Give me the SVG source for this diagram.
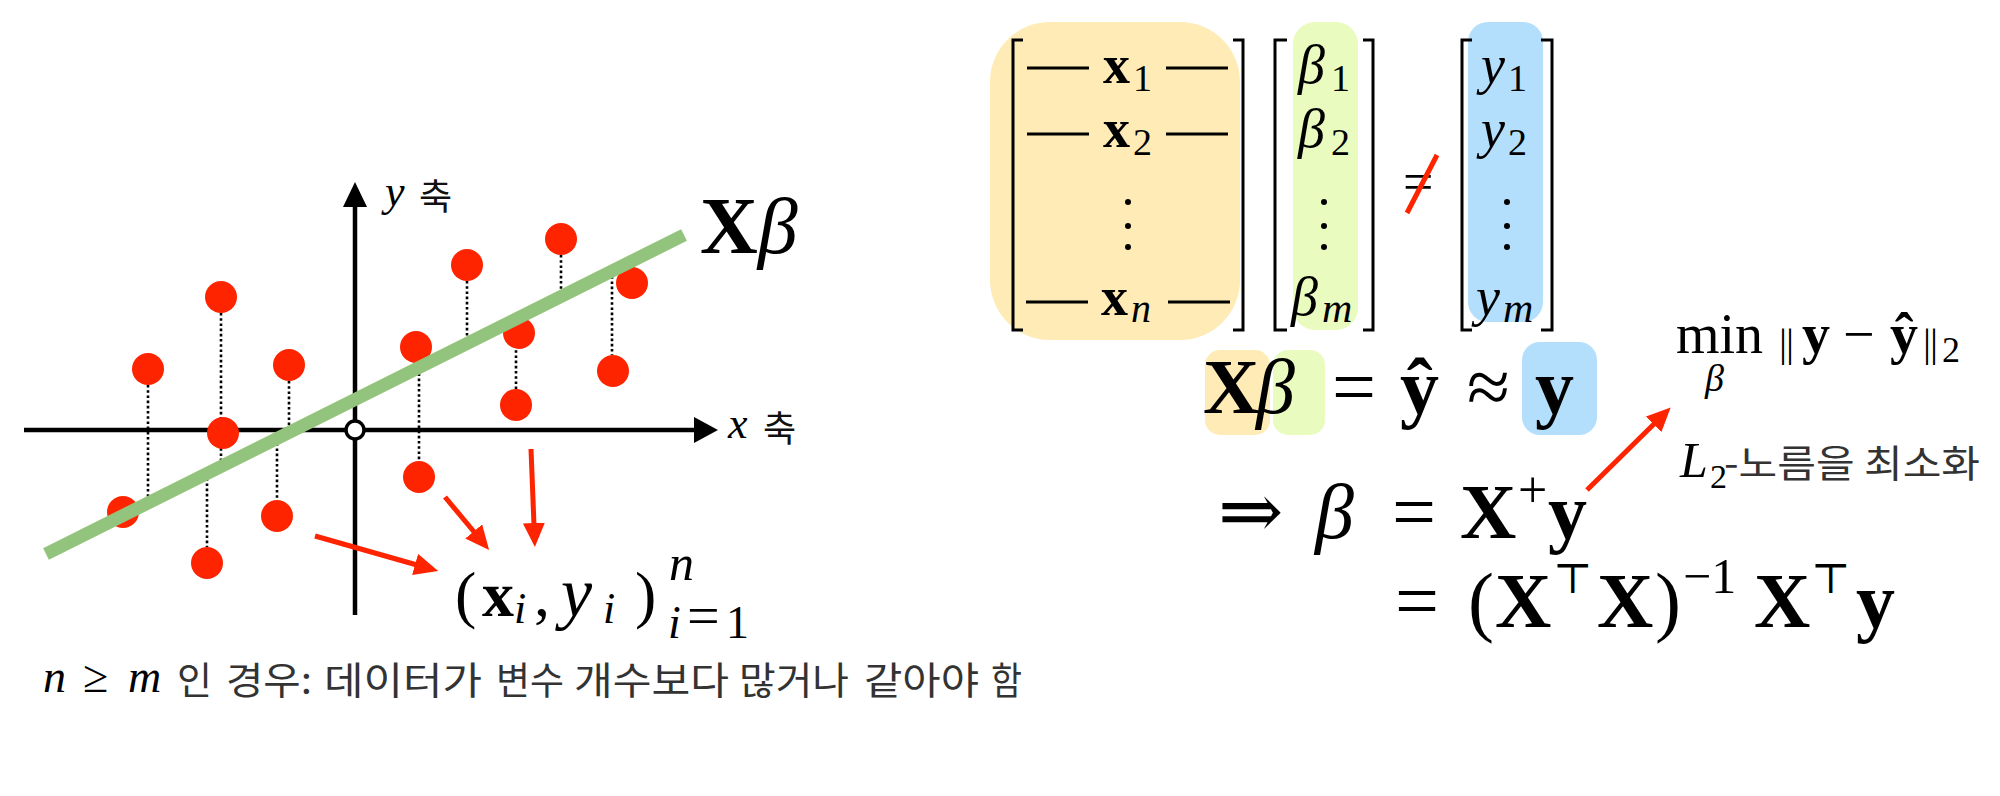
<svg xmlns="http://www.w3.org/2000/svg" width="2000" height="796" viewBox="0 0 2000 796">
<style>
.m{font-family:"Liberation Serif","DejaVu Serif","DejaVu Sans",serif;fill:#000}
.b{font-weight:bold}
.i{font-style:italic}
.k{font-family:"Noto Sans CJK KR","Noto Sans",sans-serif;fill:#333}
.dot{stroke:#000;stroke-width:2.6;stroke-dasharray:2.6 2.6;fill:none}
.pt{fill:#ff2400}
.ax{stroke:#000;stroke-width:4.5;fill:none}
.br{stroke:#000;stroke-width:3;fill:none}
.ra{stroke:#ff2400;stroke-width:5;fill:none;marker-end:url(#rh)}
</style>
<defs>
<marker id="rh" markerUnits="userSpaceOnUse" markerWidth="26" markerHeight="24" refX="2" refY="11" orient="auto">
<path d="M0,0 L24,11 L0,22 z" fill="#ff2400"/>
</marker>
</defs>
<rect width="2000" height="796" fill="#fff"/>

<g id="plot">
<g id="dotted">
<line class="dot" x1="148" y1="385" x2="148" y2="503"/>
<line class="dot" x1="221" y1="313" x2="221" y2="467"/>
<line class="dot" x1="207" y1="473" x2="207" y2="547"/>
<line class="dot" x1="289" y1="381" x2="289" y2="433"/>
<line class="dot" x1="277" y1="438" x2="277" y2="500"/>
<line class="dot" x1="419" y1="363" x2="419" y2="461"/>
<line class="dot" x1="467" y1="281" x2="467" y2="344"/>
<line class="dot" x1="516" y1="319" x2="516" y2="389"/>
<line class="dot" x1="561" y1="255" x2="561" y2="297"/>
<line class="dot" x1="612" y1="271" x2="612" y2="355"/>
</g>
<g id="axes">
<line class="ax" x1="24" y1="430" x2="697" y2="430"/>
<polygon points="718,430 694,417 694,443" fill="#000"/>
<line class="ax" x1="355" y1="615" x2="355" y2="205"/>
<polygon points="355,182 343,207 367,207" fill="#000"/>
</g>
<g id="points">
<circle class="pt" cx="148" cy="369" r="16"/>
<circle class="pt" cx="221" cy="297" r="16"/>
<circle class="pt" cx="223" cy="433" r="16"/>
<circle class="pt" cx="289" cy="365" r="16"/>
<circle class="pt" cx="123" cy="512" r="16"/>
<circle class="pt" cx="207" cy="563" r="16"/>
<circle class="pt" cx="277" cy="516" r="16"/>
<circle class="pt" cx="416" cy="347" r="16"/>
<circle class="pt" cx="419" cy="477" r="16"/>
<circle class="pt" cx="467" cy="265" r="16"/>
<circle class="pt" cx="519" cy="333" r="16"/>
<circle class="pt" cx="516" cy="405" r="16"/>
<circle class="pt" cx="561" cy="239" r="16"/>
<circle class="pt" cx="632" cy="283" r="16"/>
<circle class="pt" cx="613" cy="371" r="16"/>
</g>
<line id="fit" x1="46" y1="554" x2="684" y2="235" stroke="#93c47d" stroke-width="13"/>
<circle id="origin" cx="355" cy="430" r="9" fill="#fff" stroke="#000" stroke-width="3.5"/>
<g id="axis-labels">
<text class="m i" x="385" y="206" font-size="44">y</text>
<text class="k" x="419" y="210" font-size="36" style="fill:#111">축</text>
<text class="m i" x="728" y="438" font-size="44">x</text>
<text class="k" x="763" y="442" font-size="36" style="fill:#111">축</text>
</g>
<text id="xb-label" class="m" x="700" y="253" font-size="80"><tspan class="b">X</tspan><tspan class="i">β</tspan></text>
<g id="pairs-label" class="m">
<text y="616" font-size="64"><tspan x="455">(</tspan><tspan class="b" x="482">x</tspan><tspan class="i" x="514" dy="7" font-size="44">i</tspan><tspan x="534" dy="-7">,</tspan><tspan class="i" x="561" font-size="70">y</tspan><tspan class="i" x="603" dy="7" font-size="44">i</tspan><tspan x="635" dy="-7">)</tspan></text>
<text class="i" x="669" y="580" font-size="50">n</text>
<text y="638" font-size="46"><tspan class="i" x="668">i</tspan><tspan x="687" dy="-3" font-size="58">=</tspan><tspan x="726" dy="3">1</tspan></text>
</g>
</g>

<g id="connectors">
<line class="ra" x1="315" y1="536" x2="417" y2="565"/>
<line class="ra" x1="445" y1="497" x2="475" y2="533"/>
<line class="ra" x1="531" y1="449" x2="534" y2="525"/>
<line class="ra" x1="1587" y1="490" x2="1655" y2="423"/>
</g>

<g id="matrix-X">
<rect x="990" y="22" width="250" height="318" rx="60" fill="#ffebb6"/>
<path class="br" d="M1023,40 H1013 V330 H1023"/>
<path class="br" d="M1233,40 H1243 V330 H1233"/>
<g stroke="#000" stroke-width="3">
<line x1="1027" y1="68" x2="1089" y2="68"/><line x1="1166" y1="68" x2="1228" y2="68"/>
<line x1="1027" y1="134" x2="1089" y2="134"/><line x1="1166" y1="134" x2="1228" y2="134"/>
<line x1="1026" y1="302" x2="1088" y2="302"/><line x1="1168" y1="302" x2="1230" y2="302"/>
</g>
<g class="m">
<text font-size="54" y="83"><tspan class="b" x="1103">x</tspan><tspan x="1133" dy="8" font-size="38">1</tspan></text>
<text font-size="54" y="147"><tspan class="b" x="1103">x</tspan><tspan x="1133" dy="8" font-size="38">2</tspan></text>
<text font-size="54" y="315"><tspan class="b" x="1101">x</tspan><tspan class="i" x="1131" dy="7" font-size="40">n</tspan></text>
</g>
<circle cx="1128" cy="202" r="3"/><circle cx="1128" cy="226" r="3"/><circle cx="1128" cy="247" r="3"/>
</g>

<g id="vector-beta">
<rect x="1293" y="22" width="65" height="308" rx="22" fill="#e9fbbf"/>
<path class="br" d="M1287,40 H1275 V330 H1287"/>
<path class="br" d="M1363,40 H1373 V330 H1363"/>
<g class="m">
<text font-size="54" y="83"><tspan class="i" x="1298">β</tspan><tspan x="1331" dy="8" font-size="38">1</tspan></text>
<text font-size="54" y="147"><tspan class="i" x="1298">β</tspan><tspan x="1331" dy="8" font-size="38">2</tspan></text>
<text font-size="54" y="315"><tspan class="i" x="1291">β</tspan><tspan class="i" x="1322" dy="7" font-size="42">m</tspan></text>
</g>
<circle cx="1324" cy="202" r="3"/><circle cx="1324" cy="226" r="3"/><circle cx="1324" cy="247" r="3"/>
</g>

<g id="neq">
<text class="m" x="1403" y="200" font-size="54">=</text>
<line x1="1407" y1="213" x2="1437" y2="155" stroke="#ff2400" stroke-width="5"/>
</g>

<g id="vector-y">
<rect x="1468" y="22" width="75" height="300" rx="20" fill="#b3dffc"/>
<path class="br" d="M1472,40 H1462 V330 H1472"/>
<path class="br" d="M1541,40 H1552 V330 H1541"/>
<g class="m">
<text font-size="54" y="83"><tspan class="i" x="1481">y</tspan><tspan x="1508" dy="8" font-size="38">1</tspan></text>
<text font-size="54" y="147"><tspan class="i" x="1481">y</tspan><tspan x="1508" dy="8" font-size="38">2</tspan></text>
<text font-size="54" y="315"><tspan class="i" x="1476">y</tspan><tspan class="i" x="1503" dy="7" font-size="42">m</tspan></text>
</g>
<circle cx="1507" cy="202" r="3"/><circle cx="1507" cy="226" r="3"/><circle cx="1507" cy="247" r="3"/>
</g>

<g id="eq1">
<rect x="1205" y="350" width="65" height="85" rx="15" fill="#ffebb6"/>
<rect x="1273" y="350" width="52" height="85" rx="15" fill="#e9fbbf"/>
<rect x="1522" y="342" width="75" height="93" rx="18" fill="#b3dffc"/>
<text class="m" y="413" font-size="78"><tspan class="b" x="1203">X</tspan><tspan class="i" x="1256">β</tspan><tspan x="1332">=</tspan><tspan class="b" x="1400">ŷ</tspan><tspan x="1467">≈</tspan><tspan class="b" x="1535">y</tspan></text>
</g>

<g id="eq2">
<text class="m" y="538" font-size="78"><tspan x="1218">⇒</tspan><tspan class="i" x="1315">β</tspan><tspan x="1392">=</tspan><tspan class="b" x="1460">X</tspan><tspan x="1518" dy="-31" font-size="52">+</tspan><tspan class="b" x="1548" dy="31">y</tspan></text>
</g>

<g id="eq3">
<text class="m" y="627" font-size="78"><tspan x="1395">=</tspan><tspan x="1468">(</tspan><tspan class="b" x="1495">X</tspan><tspan x="1553" dy="-34" font-size="42">⊤</tspan><tspan class="b" x="1597" dy="34">X</tspan><tspan x="1655">)</tspan><tspan x="1683" dy="-34" font-size="50">−1</tspan><tspan class="b" x="1754" dy="34">X</tspan><tspan x="1811" dy="-34" font-size="42">⊤</tspan><tspan class="b" x="1856" dy="34">y</tspan></text>
</g>

<g id="min-label">
<text class="m" y="353" font-size="56"><tspan x="1676">min</tspan><tspan x="1779" font-size="40" dy="3">|</tspan><tspan x="1786" font-size="40">|</tspan><tspan class="b" x="1802" dy="-3">y</tspan><tspan x="1843">−</tspan><tspan class="b" x="1890">ŷ</tspan><tspan x="1923" font-size="40" dy="3">|</tspan><tspan x="1930" font-size="40">|</tspan><tspan x="1942" dy="6" font-size="36">2</tspan></text>
<text class="m i" x="1705" y="391" font-size="38">β</text>
</g>

<g id="l2-label">
<text class="m" y="477" font-size="50"><tspan class="i" x="1680">L</tspan><tspan x="1710" dy="11" font-size="34">2</tspan></text>
<text class="k" x="1724" y="477" font-size="38" textLength="256" lengthAdjust="spacingAndGlyphs">-노름을 최소화</text>
</g>

<g id="condition">
<text class="m" y="692" font-size="46"><tspan class="i" x="43">n</tspan><tspan x="83">≥</tspan><tspan class="i" x="128">m</tspan></text>
<g class="k" font-size="38">
<text x="177" y="694" textLength="35" lengthAdjust="spacingAndGlyphs">인</text>
<text x="226" y="694" textLength="86" lengthAdjust="spacingAndGlyphs">경우:</text>
<text x="324" y="694" textLength="158" lengthAdjust="spacingAndGlyphs">데이터가</text>
<text x="496" y="694" textLength="68" lengthAdjust="spacingAndGlyphs">변수</text>
<text x="574" y="694" textLength="155" lengthAdjust="spacingAndGlyphs">개수보다</text>
<text x="739" y="694" textLength="110" lengthAdjust="spacingAndGlyphs">많거나</text>
<text x="864" y="694" textLength="115" lengthAdjust="spacingAndGlyphs">같아야</text>
<text x="991" y="694" textLength="31" lengthAdjust="spacingAndGlyphs">함</text>
</g>
</g>
</svg>
